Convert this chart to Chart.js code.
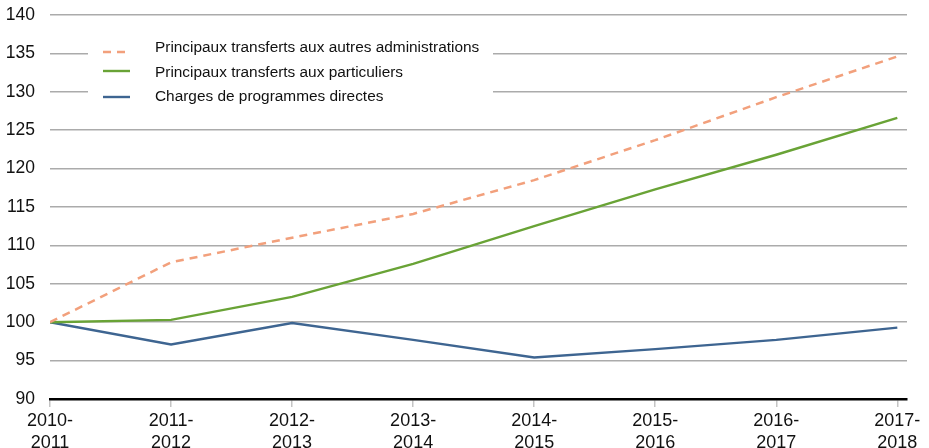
<!DOCTYPE html>
<html>
<head>
<meta charset="utf-8">
<script src="https://cdn.jsdelivr.net/npm/chart.js@4.4.1/dist/chart.umd.min.js"></script>
<style>
  html, body { margin: 0; padding: 0; background: #fff; }
  #wrap { width: 929px; height: 448px; position: relative; }
</style>
</head>
<body>
<div id="wrap"><canvas id="lineChart"></canvas></div>
<script>
// Exercices financiers (axe horizontal)
const exercices = ['2010-2011', '2011-2012', '2012-2013', '2013-2014', '2014-2015', '2015-2016', '2016-2017', '2017-2018'];

// Indice, 2010-2011 = 100
const transfertsAdministrations = [100, 107.8, 111.0, 114.1, 118.5, 123.7, 129.3, 134.6];
const transfertsParticuliers = [100, 100.3, 103.3, 107.6, 112.5, 117.3, 121.8, 126.6];
const chargesDirectes = [100, 97.1, 99.9, 97.7, 95.4, 96.5, 97.7, 99.3];

const yTicks = [90, 95, 100, 105, 110, 115, 120, 125, 130, 135, 140];

const FONT = "'Liberation Sans', Arial, Helvetica, sans-serif";

const series = [
  { label: 'Principaux transferts aux autres administrations', data: transfertsAdministrations, color: '#f2a07c', dash: [8, 6], width: 2.5 },
  { label: 'Principaux transferts aux particuliers', data: transfertsParticuliers, color: '#69a336', dash: [], width: 2.4 },
  { label: 'Charges de programmes directes', data: chargesDirectes, color: '#3e6591', dash: [], width: 2.4 },
];

// légende posée sur le graphique, avec fond blanc qui coupe les lignes de grille
const legendeInterne = {
  id: 'legendeInterne',
  beforeDatasetsDraw(chart) {
    const ctx = chart.ctx;
    ctx.save();
    ctx.fillStyle = '#fff';
    ctx.fillRect(88, 40, 405, 67);
    const rows = [
      { lineY: 52, textY: 48 },
      { lineY: 71, textY: 73 },
      { lineY: 97, textY: 97 },
    ];
    series.forEach((s, i) => {
      ctx.strokeStyle = s.color;
      ctx.lineWidth = s.width;
      ctx.setLineDash(s.dash);
      ctx.beginPath();
      ctx.moveTo(103, rows[i].lineY);
      ctx.lineTo(130, rows[i].lineY);
      ctx.stroke();
      ctx.setLineDash([]);
      ctx.fillStyle = '#111';
      ctx.font = '15.4px ' + FONT;
      ctx.textBaseline = 'middle';
      ctx.textAlign = 'left';
      ctx.fillText(s.label, 155, rows[i].textY);
    });
    ctx.restore();
  }
};

const ctx = document.getElementById('lineChart').getContext('2d');
new Chart(ctx, {
  type: 'line',
  data: {
    datasets: series.map(s => ({
      label: s.label,
      data: s.data.map((v, i) => ({ x: i, y: v })),
      borderColor: s.color,
      borderWidth: s.width,
      borderDash: s.dash,
      pointRadius: 0,
      tension: 0,
      fill: false,
    })),
  },
  options: {
    responsive: true,
    maintainAspectRatio: false,
    animation: false,
    layout: { padding: { top: 15, right: 22, left: 0, bottom: 0 } },
    plugins: {
      legend: { display: false },
      tooltip: { enabled: false },
    },
    scales: {
      x: {
        type: 'linear',
        min: 0,
        max: 7.08,
        afterBuildTicks: axis => {
          axis.ticks = exercices.map((_, i) => ({ value: i }));
        },
        afterFit: s => { s.height = 49; },
        ticks: {
          autoSkip: false,
          maxRotation: 0,
          padding: 3,
          color: '#111',
          font: { family: FONT, size: 18, lineHeight: 1.22 },
          callback: v => {
            const [a, b] = exercices[v].split('-');
            return [a + '-', b];
          },
        },
        grid: { drawOnChartArea: false, tickLength: 8, color: '#c4c4c4', lineWidth: 1.5 },
        border: { color: '#000', width: 2.5 },
      },
      y: {
        min: 90,
        max: 140,
        afterBuildTicks: axis => {
          axis.ticks = yTicks.map(v => ({ value: v }));
        },
        afterFit: s => {
          s.width = 50;
          s.paddingTop = 0;
          s.paddingBottom = 0;
        },
        ticks: {
          padding: 15,
          color: '#111',
          font: { family: FONT, size: 17.5 },
        },
        grid: { drawTicks: false, color: '#ababab', lineWidth: 1.5 },
        border: { display: false },
      },
    },
  },
  plugins: [legendeInterne],
});
</script>
</body>
</html>
